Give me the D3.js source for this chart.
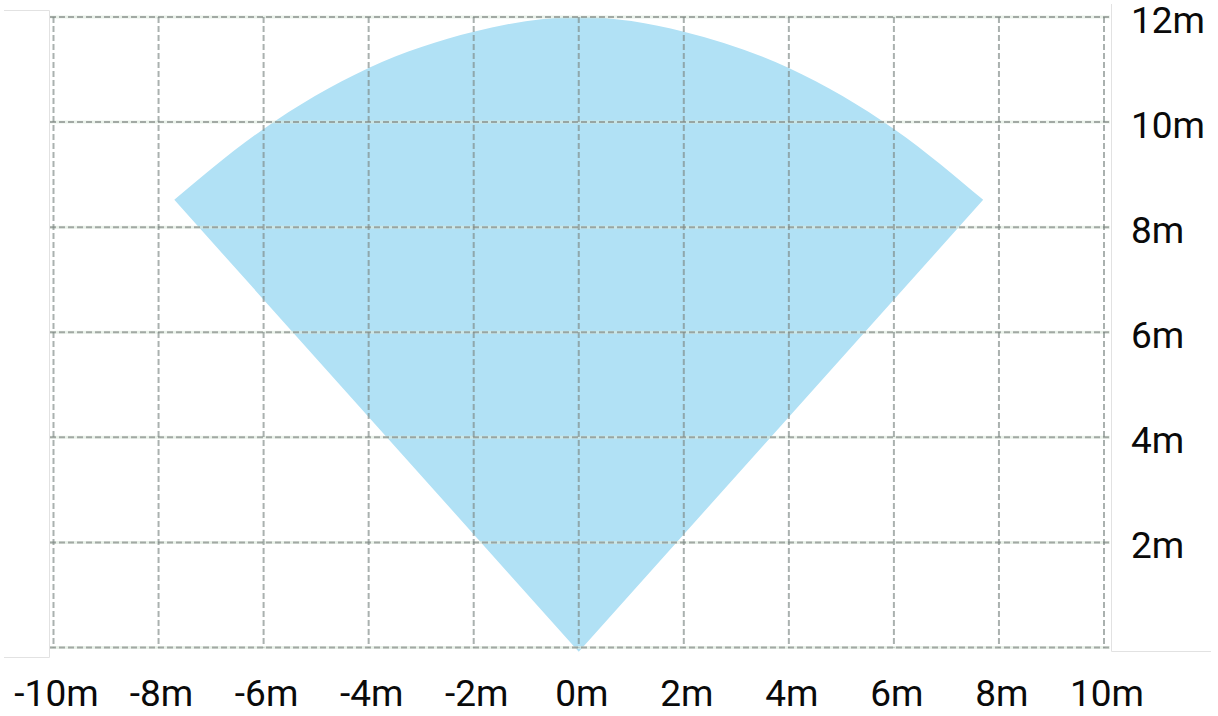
<!DOCTYPE html>
<head>
  <meta charset="utf-8">
  <script src="https://d3js.org/d3.v7.min.js"></script>
  <style>
    body { margin:0; background:#fff; }
    svg { display:block; }
    text { font-family: Roboto, sans-serif; font-size: 37px; fill: #0a0a0a; }
  </style>
</head>
<body>
  <svg width="1218" height="716"></svg>
  <script>
    // tick values (meters)
    var xTicks = [-10, -8, -6, -4, -2, 0, 2, 4, 6, 8, 10];
    var yTicks = [0, 2, 4, 6, 8, 10, 12];
    // coverage area: far edge, apex at the sensor
    var arcX = [-7.7, -6, -4, -2, 0, 2, 4, 6, 7.7];
    var arcY = [8.52, 9.87, 11.03, 11.72, 12, 11.72, 11.03, 9.87, 8.52];
    var apex = [0, -0.08];

    var svg = d3.select('svg');
    var xScale = d3.scaleLinear().domain([-10, 10]).range([53.5, 1104]);
    var yScale = d3.scaleLinear().domain([0, 12]).range([647.5, 17]);

    // side panels
    svg.append('path')
      .attr('d', 'M4,10.5H49.5V657.5H4')
      .attr('fill', 'none').attr('stroke', '#e2e2e2');
    svg.append('path')
      .attr('d', 'M1111.5,4V651.5H1211')
      .attr('fill', 'none').attr('stroke', '#e2e2e2');

    // coverage shape
    var arcPts = arcX.map((x, i) => [xScale(x), yScale(arcY[i])]);
    var arcLine = d3.line().curve(d3.curveNatural);
    svg.append('path')
      .attr('d', arcLine(arcPts) + 'L' + xScale(apex[0]) + ',' + yScale(apex[1]) + 'Z')
      .attr('fill', '#b1e1f5');

    // grid
    var grid = svg.append('g');
    grid.selectAll('.hbg').data(yTicks).enter().append('line')
      .attr('x1', 50).attr('x2', 1110)
      .attr('y1', d => yScale(d)).attr('y2', d => yScale(d))
      .attr('stroke', '#dbe8db').attr('stroke-opacity', 0.6).attr('stroke-width', 3);
    grid.selectAll('.h').data(yTicks).enter().append('line')
      .attr('x1', 50).attr('x2', 1110)
      .attr('y1', d => yScale(d)).attr('y2', d => yScale(d))
      .attr('stroke', '#838a86').attr('stroke-opacity', 0.7)
      .attr('stroke-width', 2).attr('stroke-dasharray', '6,3');
    grid.selectAll('.v').data(xTicks).enter().append('line')
      .attr('x1', d => xScale(d)).attr('x2', d => xScale(d))
      .attr('y1', yScale(12)).attr('y2', yScale(0))
      .attr('stroke', '#7d8784').attr('stroke-opacity', 0.65)
      .attr('stroke-width', 2).attr('stroke-dasharray', '6,3');

    // labels
    svg.selectAll('.xl').data(xTicks).enter().append('text')
      .attr('x', d => xScale(d) + 3).attr('y', 706)
      .attr('text-anchor', 'middle')
      .text(d => d + 'm');
    svg.selectAll('.yl').data(yTicks.filter(d => d > 0)).enter().append('text')
      .attr('x', 1131).attr('y', d => yScale(d) + 16)
      .text(d => d + 'm');
  </script>
</body>
